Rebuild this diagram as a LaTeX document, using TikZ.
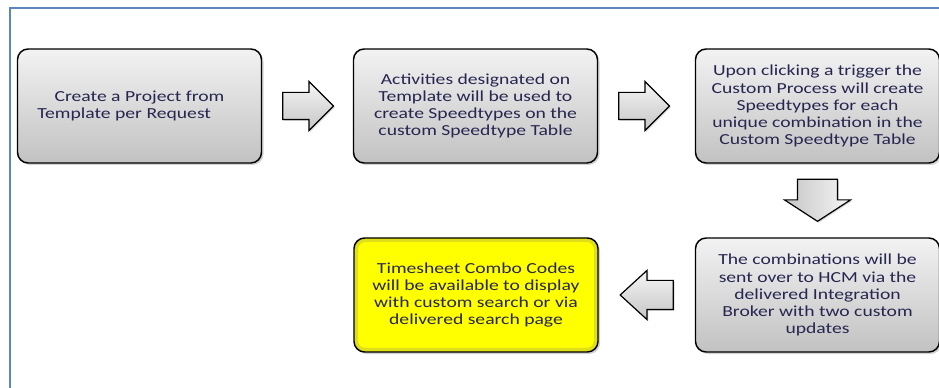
\documentclass[tikz,border=0pt]{standalone}
\usepackage{fontspec}
\setmainfont{Carlito}[FakeStretch=1.28]
\usepackage{xcolor}
\usetikzlibrary{shapes.arrows,shadows,calc}

\definecolor{navytext}{HTML}{262650}
\definecolor{framebl}{HTML}{5B86C0}

\tikzset{
  stepbox/.style={draw=black, line width=1.1pt, rounded corners=8pt,
    minimum width=183pt, minimum height=85.5pt, inner sep=0pt,
    align=center, text=navytext, top color=gray!10, bottom color=gray!48,
    drop shadow={shadow xshift=1.5pt, shadow yshift=-1.5pt, opacity=0.35},
    font=\fontsize{11.5}{12.8}\selectfont},
  goalbox/.style={stepbox, top color=yellow, bottom color=yellow,
    path picture={\draw[yellow!70!black, opacity=0.45, line width=3pt, rounded corners=7pt]
      ([shift={(1.5pt,-1.5pt)}]path picture bounding box.north west) rectangle
      ([shift={(-1.5pt,1.5pt)}]path picture bounding box.south east);}},
  blockarrow/.style={single arrow, draw=black, line width=0.9pt, anchor=tail,
    inner xsep=0pt, inner ysep=9.75pt,
    minimum height=38pt, single arrow head extend=8.25pt,
    single arrow tip angle=90, top color=gray!8, bottom color=gray!45,
    drop shadow={shadow xshift=1pt, shadow yshift=-1pt, opacity=0.3}},
}

\begin{document}
\begin{tikzpicture}[x=0.75pt, y=-0.75pt]
\useasboundingbox (0,0) rectangle (939,388);
\draw[framebl, line width=1.2pt] (10,388) -- (10,8) -- (939,8);

% top row
\node[stepbox] (create) at (139.5,106) {Create a Project from\\Template per Request\hspace*{23pt}};
\node[stepbox] (activities) at (475.5,106) {Activities designated on\\Template will be used to\\create Speedtypes on the\\custom Speedtype Table};
\node[stepbox] (trigger) at (817.5,106) {Upon clicking a trigger the\\Custom Process will create\\Speedtypes for each\\unique combination in the\\Custom Speedtype Table};

% bottom row
\node[stepbox] (broker) at (817.5,295) {The combinations will be\\sent over to HCM via the\\delivered Integration\\Broker with two custom\\updates};
\node[goalbox] (combo) at (476,295) {Timesheet Combo Codes\\will be available to display\\with custom search or via\\delivered search page};

% block arrows between the boxes
\node[blockarrow] (arr1) at ($(create.east)+(20,0)$) {};
\node[blockarrow] (arr2) at ($(activities.east)+(20,0)$) {};
\node[blockarrow, shape border rotate=270, inner xsep=14.6pt, inner ysep=0pt,
  minimum height=31.5pt, single arrow head extend=9.75pt, single arrow tip angle=114,
  left color=gray!45, right color=gray!8] (arr3) at ($(trigger.south)+(0,15)$) {};
\node[blockarrow, shape border rotate=180, inner ysep=10.5pt, minimum height=39.75pt,
  single arrow head extend=7.5pt, single arrow tip angle=85] (arr4) at ($(broker.west)+(-21,0)$) {};
\end{tikzpicture}
\end{document}
